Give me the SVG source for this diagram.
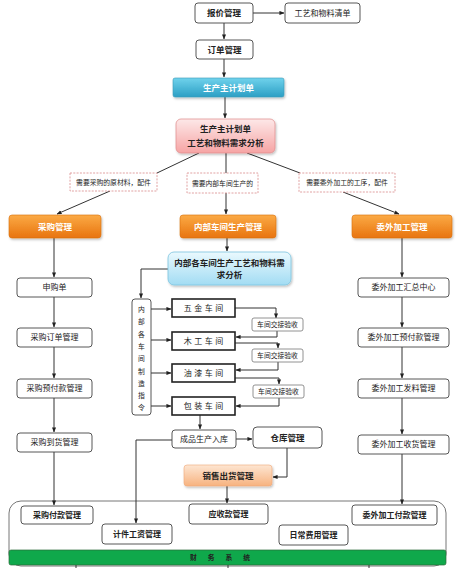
<svg xmlns="http://www.w3.org/2000/svg" width="457" height="568" viewBox="0 0 457 568">
<defs>
<linearGradient id="gCyan" x1="0" y1="0" x2="0" y2="1"><stop offset="0" stop-color="#6fd2ec"/><stop offset="1" stop-color="#2c9fc4"/></linearGradient>
<linearGradient id="gOrange" x1="0" y1="0" x2="0" y2="1"><stop offset="0" stop-color="#fbaa45"/><stop offset="1" stop-color="#e8740f"/></linearGradient>
<linearGradient id="gPink" x1="0" y1="0" x2="0" y2="1"><stop offset="0" stop-color="#fde8e8"/><stop offset="1" stop-color="#f6a4a4"/></linearGradient>
<linearGradient id="gBlue" x1="0" y1="0" x2="0" y2="1"><stop offset="0" stop-color="#eaf9fe"/><stop offset="1" stop-color="#a2dcf3"/></linearGradient>
<linearGradient id="gPeach" x1="0" y1="0" x2="0" y2="1"><stop offset="0" stop-color="#fde6d2"/><stop offset="1" stop-color="#f7b27f"/></linearGradient>
<filter id="sh" x="-10%" y="-20%" width="120%" height="160%"><feDropShadow dx="1" dy="1.5" stdDeviation="1" flood-color="#000" flood-opacity="0.25"/></filter>
<marker id="ah" viewBox="0 0 6 6" refX="5.5" refY="3" markerWidth="5" markerHeight="5" orient="auto" markerUnits="userSpaceOnUse"><path d="M0,0.5 L6,3 L0,5.5 z" fill="#222"/></marker>
<style>
text{font-family:'Liberation Sans','Noto Sans CJK SC',sans-serif;fill:#222;text-anchor:middle;dominant-baseline:central}
.b{font-weight:bold}
.w{fill:#fff;font-weight:bold}
.s9{font-size:8.5px}
.s8{font-size:8px}
.s7{font-size:6.8px}
.box{fill:#fff;stroke:#444;stroke-width:0.9}
.thick{fill:#fff;stroke:#222;stroke-width:1.6}
.small{fill:#fff;stroke:#777;stroke-width:0.8}
.lab{fill:#fff;stroke:#d98a8c;stroke-width:0.8;stroke-dasharray:2 1.3}
.ln{fill:none;stroke:#333;stroke-width:1}
.arr{fill:none;stroke:#333;stroke-width:1;marker-end:url(#ah)}
.ws{letter-spacing:2.5px}
</style>
</defs>

<g id="container"><rect x="9" y="501" width="437" height="65" rx="12" fill="#fff" stroke="#666" stroke-width="0.9"/></g>

<g id="connectors">
<path class="arr" d="M253,13 H284"/>
<path class="arr" d="M224,23 V39"/>
<path class="arr" d="M224,59 V77"/>
<path class="arr" d="M225,97 V118"/>
<path class="ln" d="M199,153 L157,173"/>
<path class="arr" d="M110,191 L57,214"/>
<path class="ln" d="M226,153 V173"/>
<path class="arr" d="M226,193 V214"/>
<path class="ln" d="M247,153 L300,173"/>
<path class="arr" d="M343,192 L399,214"/>
<path class="arr" d="M54,238 V277"/>
<path class="arr" d="M54,297 V327"/>
<path class="arr" d="M54,347 V378"/>
<path class="arr" d="M54,398 V432"/>
<path class="arr" d="M54,452 V505"/>
<path class="arr" d="M402,238 V277"/>
<path class="arr" d="M402,297 V327"/>
<path class="arr" d="M402,347 V378"/>
<path class="arr" d="M402,398 V434"/>
<path class="arr" d="M402,454 V504"/>
<path class="arr" d="M227,238 V251"/>
<path class="arr" d="M168,269 H141 V298"/>
<path class="arr" d="M151,309 H171"/>
<path class="arr" d="M151,340 H171"/>
<path class="arr" d="M151,373 H171"/>
<path class="arr" d="M151,406 H171"/>
<path class="arr" d="M235,308 H276 V318"/>
<path class="arr" d="M277,331 V337 H236"/>
<path class="arr" d="M235,343 H278 V348"/>
<path class="arr" d="M278,362 V370 H236"/>
<path class="arr" d="M235,378 H279 V384"/>
<path class="arr" d="M279,398 V406 H236"/>
<path class="arr" d="M200,415 V429"/>
<path class="arr" d="M236,439 H252"/>
<path class="arr" d="M287,448 V477 H273"/>
<path class="arr" d="M227,486 V503"/>
<path class="arr" d="M172,440 H136 V523"/>
<path class="ln" d="M76,565 V568 M228,565 V568 M369,565 V568"/>
</g>

<g id="n-baojia"><rect class="box" x="195" y="3" width="58" height="20" rx="3"/><text class="b s9" x="224" y="13">报价管理</text></g>
<g id="n-gongyi"><rect class="box" x="285" y="3" width="75" height="20" rx="3"/><text class="s8" x="322.5" y="13">工艺和物料清单</text></g>
<g id="n-dingdan"><rect class="box" x="196" y="40" width="57" height="19" rx="3"/><text class="b s9" x="224.5" y="49.5">订单管理</text></g>
<g id="n-zhujihua"><rect x="173" y="78" width="111" height="19" rx="2" fill="url(#gCyan)" stroke="#3a9ab8" stroke-width="0.6" filter="url(#sh)"/><text class="w s9" x="228.5" y="87.5">生产主计划单</text></g>
<g id="n-fenxi"><rect x="176" y="119" width="99" height="34" rx="5" fill="url(#gPink)" stroke="#e08a8a" stroke-width="0.7" filter="url(#sh)"/><text class="b s9" x="225.5" y="129">生产主计划单</text><text class="b s9" x="225.5" y="143">工艺和物料需求分析</text></g>

<g id="l-caigou"><rect class="lab" x="70" y="173" width="87" height="18"/><text class="s7" x="113.5" y="182">需要采购的原材料，配件</text></g>
<g id="l-neibu"><rect class="lab" x="187" y="173" width="71" height="20"/><text class="s7" x="222.5" y="183">需要内部车间生产的</text></g>
<g id="l-weiwai"><rect class="lab" x="299" y="173" width="96" height="19"/><text class="s7" x="347" y="182.5">需要委外加工的工序，配件</text></g>

<g id="n-caigouguanli"><rect x="9" y="215" width="92" height="23" rx="3" fill="url(#gOrange)" stroke="#d9700f" stroke-width="0.6" filter="url(#sh)"/><text class="w s9" x="55" y="226.5">采购管理</text></g>
<g id="n-neibushengchan"><rect x="180" y="215" width="96" height="23" rx="3" fill="url(#gOrange)" stroke="#d9700f" stroke-width="0.6" filter="url(#sh)"/><text class="w s9" x="228" y="226.5">内部车间生产管理</text></g>
<g id="n-weiwaiguanli"><rect x="352" y="215" width="100" height="23" rx="3" fill="url(#gOrange)" stroke="#d9700f" stroke-width="0.6" filter="url(#sh)"/><text class="w s9" x="402" y="226.5">委外加工管理</text></g>

<g id="n-shengou"><rect class="box" x="17" y="278" width="75" height="19" rx="3"/><text class="s8" x="54.5" y="287.5">申购单</text></g>
<g id="n-cgdingdan"><rect class="box" x="17" y="328" width="75" height="19" rx="3"/><text class="s8" x="54.5" y="337.5">采购订单管理</text></g>
<g id="n-cgyufu"><rect class="box" x="17" y="379" width="75" height="19" rx="3"/><text class="s8" x="54.5" y="388.5">采购预付款管理</text></g>
<g id="n-cgdaohuo"><rect class="box" x="17" y="433" width="75" height="19" rx="3"/><text class="s8" x="54.5" y="442.5">采购到货管理</text></g>

<g id="n-wwhuizong"><rect class="box" x="358" y="278" width="91" height="19" rx="3"/><text class="s8" x="403.5" y="287.5">委外加工汇总中心</text></g>
<g id="n-wwyufu"><rect class="box" x="358" y="328" width="91" height="19" rx="3"/><text class="s8" x="403.5" y="337.5">委外加工预付款管理</text></g>
<g id="n-wwfaliao"><rect class="box" x="358" y="379" width="91" height="19" rx="3"/><text class="s8" x="403.5" y="388.5">委外加工发料管理</text></g>
<g id="n-wwshouhuo"><rect class="box" x="358" y="435" width="91" height="19" rx="3"/><text class="s8" x="403.5" y="444.5">委外加工收货管理</text></g>

<g id="n-chejianfenxi"><rect x="168" y="252" width="123" height="33" rx="6" fill="url(#gBlue)" stroke="#7cc4e0" stroke-width="0.8" filter="url(#sh)"/><text class="b s9" x="229.5" y="263">内部各车间生产工艺和物料需</text><text class="b s9" x="229.5" y="275">求分析</text></g>

<g id="n-zhiling"><rect class="box" x="132" y="299" width="19" height="116" rx="3"/><text class="s7"><tspan x="141.5" y="309">内</tspan><tspan x="141.5" y="321.3">部</tspan><tspan x="141.5" y="333.6">各</tspan><tspan x="141.5" y="345.9">车</tspan><tspan x="141.5" y="358.2">间</tspan><tspan x="141.5" y="370.5">制</tspan><tspan x="141.5" y="382.8">造</tspan><tspan x="141.5" y="395.1">指</tspan><tspan x="141.5" y="407.4">令</tspan></text></g>

<g id="n-wujin"><rect class="thick" x="172" y="299" width="63" height="18"/><text class="s8 ws" x="204.7" y="308">五金车间</text></g>
<g id="n-mugong"><rect class="thick" x="172" y="332" width="63" height="18"/><text class="s8 ws" x="204.7" y="341">木工车间</text></g>
<g id="n-youqi"><rect class="thick" x="172" y="364" width="63" height="18"/><text class="s8 ws" x="204.7" y="373">油漆车间</text></g>
<g id="n-baozhuang"><rect class="thick" x="172" y="397" width="63" height="18"/><text class="s8 ws" x="204.7" y="406">包装车间</text></g>

<g id="n-jiaojie1"><rect class="small" x="252" y="318" width="51" height="13" rx="2"/><text class="s7" x="277.5" y="324.5">车间交接验收</text></g>
<g id="n-jiaojie2"><rect class="small" x="252" y="349" width="51" height="13" rx="2"/><text class="s7" x="277.5" y="355.5">车间交接验收</text></g>
<g id="n-jiaojie3"><rect class="small" x="253" y="385" width="51" height="13" rx="2"/><text class="s7" x="278.5" y="391.5">车间交接验收</text></g>

<g id="n-chengpin"><rect class="box" x="172" y="430" width="64" height="18" rx="3"/><text class="s8" x="204" y="439">成品生产入库</text></g>
<g id="n-cangku"><rect class="box" x="253" y="427" width="69" height="21" rx="4"/><text class="b s9" x="287.5" y="437.5">仓库管理</text></g>
<g id="n-xiaoshou"><rect x="184" y="465" width="88" height="21" rx="3" fill="url(#gPeach)" stroke="#f0a878" stroke-width="0.6" filter="url(#sh)"/><text class="b s9" x="228" y="475.5">销售出货管理</text></g>

<g id="n-cgfukuan"><rect class="box" x="21" y="506" width="72" height="18" rx="3"/><text class="b s8" x="57" y="515">采购付款管理</text></g>
<g id="n-jijian"><rect class="box" x="102" y="524" width="70" height="20" rx="3"/><text class="b s8" x="137" y="534">计件工资管理</text></g>
<g id="n-yingshou"><rect class="box" x="189" y="504" width="79" height="20" rx="3"/><text class="b s8" x="228.5" y="514">应收款管理</text></g>
<g id="n-richang"><rect class="box" x="279" y="525" width="69" height="20" rx="3"/><text class="b s8" x="313.5" y="535">日常费用管理</text></g>
<g id="n-wwfukuan"><rect class="box" x="352" y="505" width="85" height="20" rx="3"/><text class="b s8" x="394.5" y="515">委外加工付款管理</text></g>

<g id="n-caiwu"><rect x="9" y="550" width="437" height="15" rx="2" fill="#0fa84b" stroke="#2b6b3a" stroke-width="0.7"/><text class="b s7" x="225.5" y="557.5" style="letter-spacing:11px">财务系统</text></g>
</svg>
